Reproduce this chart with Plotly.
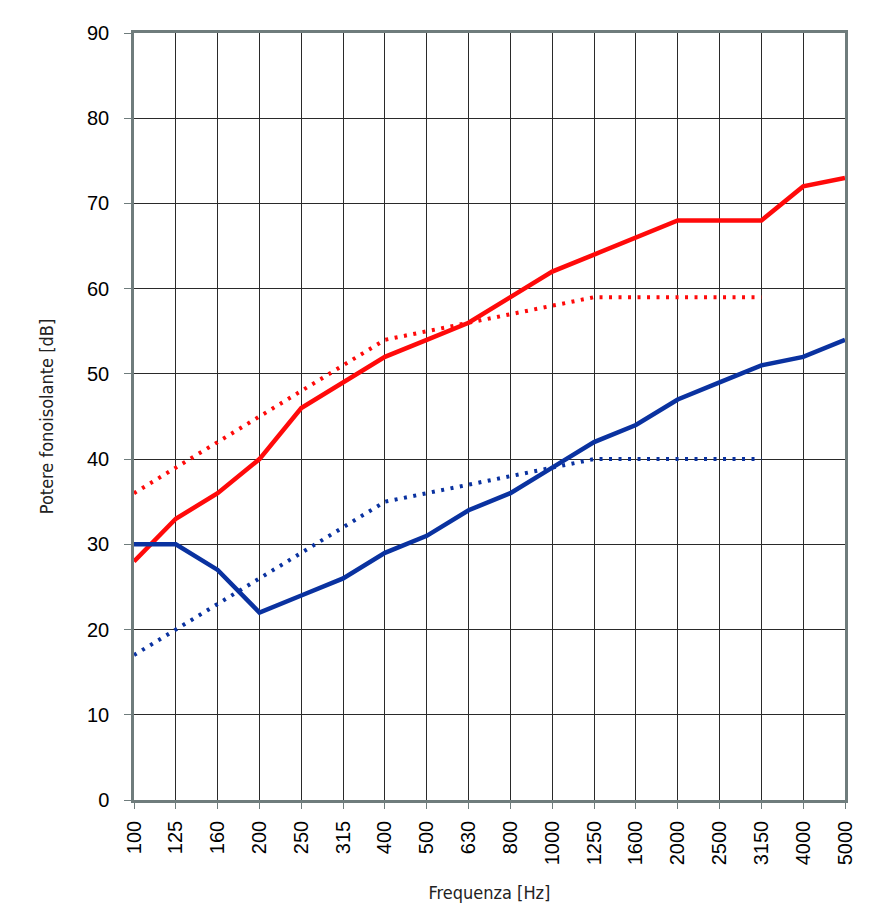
import plotly.graph_objects as go

# Frequency bands (Hz) and sound reduction values (dB)
freq = ['100', '125', '160', '200', '250', '315', '400', '500', '630', '800',
        '1000', '1250', '1600', '2000', '2500', '3150', '4000', '5000']

red_solid = [28, 33, 36, 40, 46, 49, 52, 54, 56, 59, 62, 64, 66, 68, 68, 68, 72, 73]
red_dotted = [36, 39, 42, 45, 48, 51, 54, 55, 56, 57, 58, 59, 59, 59, 59, 59]
blue_solid = [30, 30, 27, 22, 24, 26, 29, 31, 34, 36, 39, 42, 44, 47, 49, 51, 52, 54]
blue_dotted = [17, 20, 23, 26, 29, 32, 35, 36, 37, 38, 39, 40, 40, 40, 40, 40]

RED = '#ff0a0a'
BLUE = '#0a32a0'
AXIS = '#6f7c7c'
# condensed face for the axis titles
TITLE_FONT = dict(family='DejaVu Sans Condensed, sans-serif', size=18, color='#222')

fig = go.Figure()

fig.add_trace(go.Scatter(x=freq[:len(red_dotted)], y=red_dotted, mode='lines',
                         line=dict(color=RED, width=4, dash='3px,6.5px')))
fig.add_trace(go.Scatter(x=freq[:len(blue_dotted)], y=blue_dotted, mode='lines',
                         line=dict(color=BLUE, width=4, dash='3px,6.5px')))
fig.add_trace(go.Scatter(x=freq, y=red_solid, mode='lines',
                         line=dict(color=RED, width=4.5)))
fig.add_trace(go.Scatter(x=freq, y=blue_solid, mode='lines',
                         line=dict(color=BLUE, width=4.5)))

# page body adds an 8px margin, so the figure is a bit smaller than the window
fig.update_layout(
    width=880, height=905,
    margin=dict(l=126, r=43, t=25, b=113),
    plot_bgcolor='white', paper_bgcolor='white',
    showlegend=False,
    font=dict(family='Liberation Sans, Arial, sans-serif', size=20, color='black'),
)

fig.update_xaxes(
    type='category', categoryorder='array', categoryarray=freq,
    range=[0, len(freq) - 1],
    tickangle=-90, tickfont=dict(size=20), ticklabelstandoff=4,
    showgrid=True, gridcolor='#2a2a2a', gridwidth=1,
    showline=True, linecolor=AXIS, linewidth=2.5, mirror=True,
    ticks='outside', ticklen=6, tickcolor=AXIS,
    title=dict(text='Frequenza [Hz]', standoff=23, font=TITLE_FONT),
)

fig.update_yaxes(
    range=[0, 90], dtick=10, tickfont=dict(size=20), ticklabelstandoff=11,
    showgrid=True, gridcolor='#2a2a2a', gridwidth=1,
    showline=True, linecolor=AXIS, linewidth=2.5, mirror=True,
    ticks='outside', ticklen=7, tickcolor=AXIS,
    zeroline=False,
    title=dict(text='Potere fonoisolante [dB]', standoff=29, font=TITLE_FONT),
)

fig.write_html('out.html')
